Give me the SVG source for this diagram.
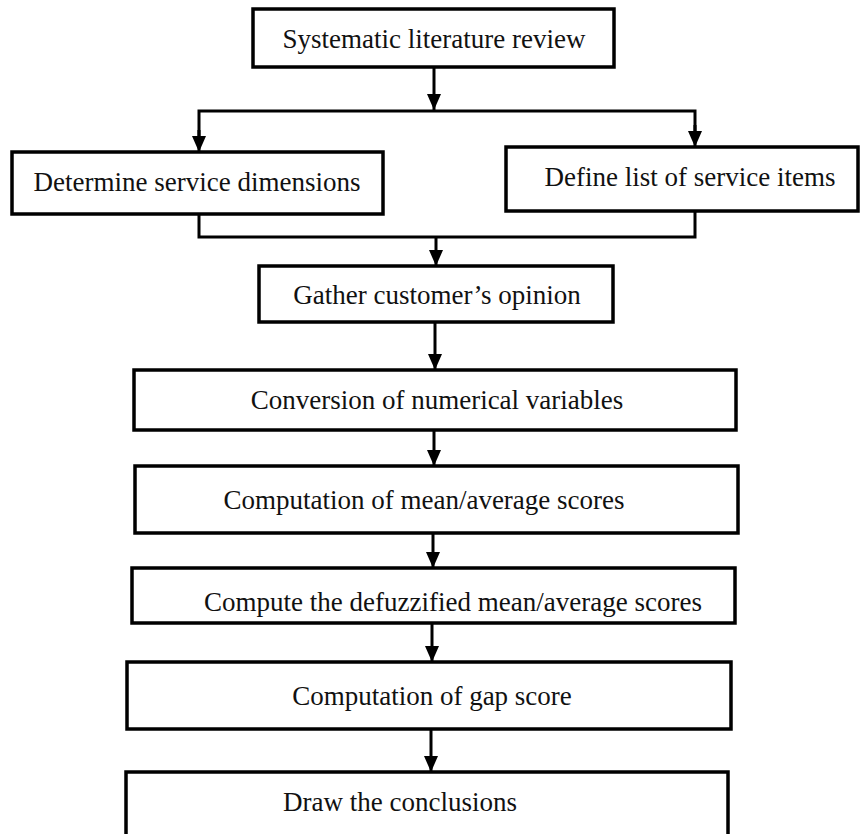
<svg xmlns="http://www.w3.org/2000/svg" width="861" height="834" viewBox="0 0 861 834">
<defs>
<marker id="ah" markerUnits="userSpaceOnUse" markerWidth="16" markerHeight="14" viewBox="0 0 16 14" refX="16" refY="7" orient="auto">
<path d="M0,0 L16,7 L0,14 Z" fill="#000"/>
</marker>
<style>
.box{fill:#fff;stroke:#000;stroke-width:3.5}
.t{font-family:"Liberation Serif","Times New Roman",serif;font-size:27px;fill:#111;text-anchor:middle}
.c{fill:none;stroke:#000;stroke-width:3}
</style>
</defs>
<rect width="861" height="834" fill="#fff"/>
<g id="connectors">
<line class="c" x1="434" y1="67" x2="434" y2="110" marker-end="url(#ah)"/>
<polyline class="c" points="199,140 199,111 695,111 695,135"/>
<line class="c" x1="199" y1="130" x2="199" y2="152" marker-end="url(#ah)"/>
<line class="c" x1="695" y1="125" x2="695" y2="147" marker-end="url(#ah)"/>
<polyline class="c" points="199,214 199,237 695,237 695,211"/>
<line class="c" x1="436" y1="237" x2="436" y2="266" marker-end="url(#ah)"/>
<line class="c" x1="435" y1="322" x2="435" y2="370" marker-end="url(#ah)"/>
<line class="c" x1="434" y1="430" x2="434" y2="466" marker-end="url(#ah)"/>
<line class="c" x1="433" y1="533" x2="433" y2="568" marker-end="url(#ah)"/>
<line class="c" x1="432" y1="623" x2="432" y2="662" marker-end="url(#ah)"/>
<line class="c" x1="431" y1="729" x2="431" y2="772" marker-end="url(#ah)"/>
</g>
<g id="n1"><rect class="box" x="253" y="9" width="361" height="58"/><text class="t" x="434" y="48">Systematic literature review</text></g>
<g id="n2"><rect class="box" x="12" y="152" width="371" height="62"/><text class="t" x="197" y="191">Determine service dimensions</text></g>
<g id="n3"><rect class="box" x="506" y="147" width="352" height="64"/><text class="t" x="690" y="186">Define list of service items</text></g>
<g id="n4"><rect class="box" x="259" y="266" width="354" height="56"/><text class="t" x="437" y="304">Gather customer’s opinion</text></g>
<g id="n5"><rect class="box" x="134" y="370" width="602" height="60"/><text class="t" x="437" y="409">Conversion of numerical variables</text></g>
<g id="n6"><rect class="box" x="135" y="466" width="603" height="67"/><text class="t" x="424" y="509">Computation of mean/average scores</text></g>
<g id="n7"><rect class="box" x="132" y="568" width="603" height="55"/><text class="t" x="453" y="611">Compute the defuzzified mean/average scores</text></g>
<g id="n8"><rect class="box" x="127" y="662" width="604" height="67"/><text class="t" x="432" y="705">Computation of gap score</text></g>
<g id="n9"><rect class="box" x="126" y="772" width="602" height="80"/><text class="t" x="400" y="811">Draw the conclusions</text></g>
</svg>
